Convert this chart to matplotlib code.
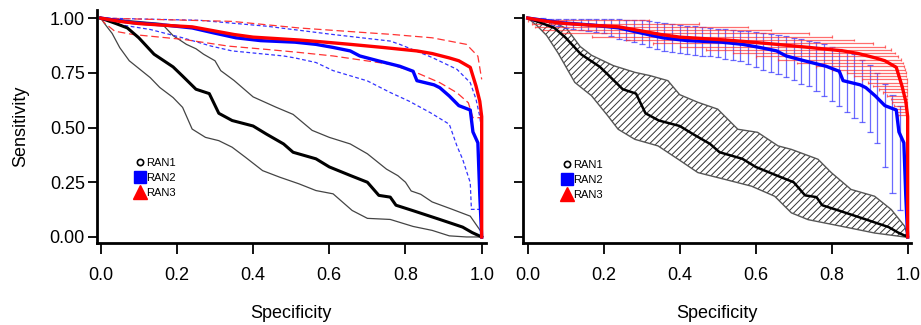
import matplotlib
matplotlib.use('Agg')
import matplotlib.pyplot as plt
from matplotlib.lines import Line2D

plt.rcParams['font.family'] = ['Liberation Sans', 'DejaVu Sans']
plt.rcParams['hatch.linewidth'] = 0.7

# ROC curves (specificity, sensitivity)
ran1_sp = [0.0, 0.04, 0.07, 0.10, 0.14, 0.19, 0.215, 0.25, 0.285, 0.31, 0.345, 0.40, 0.435,
           0.48, 0.505, 0.565, 0.60, 0.655, 0.70, 0.73, 0.76, 0.775, 0.82, 0.855, 0.89, 0.95, 0.975, 1.0]
ran1_se = [1.0, 0.975, 0.955, 0.91, 0.835, 0.777, 0.735, 0.675, 0.655, 0.565, 0.532, 0.507, 0.47,
           0.425, 0.387, 0.357, 0.32, 0.281, 0.25, 0.19, 0.182, 0.145, 0.12, 0.1, 0.08, 0.045, 0.02, 0.0]

ran2_sp = [0.0, 0.085, 0.17, 0.24, 0.295, 0.355, 0.42, 0.51, 0.565, 0.61, 0.655, 0.68, 0.73,
           0.785, 0.82, 0.83, 0.875, 0.89, 0.915, 0.94, 0.97, 0.977, 0.99, 0.995, 1.0]
ran2_se = [1.0, 0.979, 0.968, 0.955, 0.933, 0.91, 0.897, 0.89, 0.88, 0.866, 0.85, 0.827, 0.804,
           0.78, 0.757, 0.714, 0.695, 0.682, 0.644, 0.6, 0.58, 0.48, 0.43, 0.19, 0.0]

ran3_sp = [0.0, 0.05, 0.10, 0.17, 0.24, 0.35, 0.40, 0.52, 0.57, 0.655, 0.74, 0.83, 0.87,
           0.915, 0.94, 0.97, 0.985, 0.995, 1.0, 1.0]
ran3_se = [1.0, 0.985, 0.975, 0.967, 0.96, 0.925, 0.913, 0.9, 0.893, 0.88, 0.866, 0.85, 0.838,
           0.818, 0.805, 0.775, 0.69, 0.62, 0.55, 0.0]

# left panel: confidence curves
ran1_hi_sp = [0.0, 0.16, 0.19, 0.225, 0.25, 0.27, 0.30, 0.315, 0.35, 0.40, 0.46, 0.505, 0.555,
              0.60, 0.655, 0.70, 0.75, 0.78, 0.80, 0.815, 0.84, 0.87, 0.92, 0.97, 1.0]
ran1_hi_se = [1.0, 0.975, 0.92, 0.88, 0.86, 0.835, 0.805, 0.76, 0.715, 0.64, 0.593, 0.56, 0.487,
              0.455, 0.425, 0.38, 0.31, 0.28, 0.25, 0.21, 0.195, 0.16, 0.128, 0.095, 0.02]
ran1_lo_sp = [0.0, 0.01, 0.03, 0.05, 0.075, 0.10, 0.13, 0.155, 0.19, 0.215, 0.24, 0.275, 0.31, 0.345,
              0.38, 0.425, 0.47, 0.52, 0.565, 0.61, 0.66, 0.70, 0.76, 0.82, 0.87, 0.915, 0.96, 1.0]
ran1_lo_se = [1.0, 0.975, 0.93, 0.865, 0.805, 0.77, 0.728, 0.683, 0.637, 0.592, 0.493, 0.455, 0.44, 0.41,
              0.364, 0.303, 0.273, 0.243, 0.212, 0.197, 0.121, 0.085, 0.08, 0.048, 0.03, 0.005, 0.0, 0.0]

ran2_hi_sp = [0.0, 0.26, 0.435, 0.61, 0.76, 0.785, 0.87, 0.935, 0.97, 0.985, 0.995, 1.0]
ran2_hi_se = [1.0, 0.99, 0.963, 0.925, 0.895, 0.88, 0.82, 0.766, 0.705, 0.63, 0.55, 0.48]
ran2_lo_sp = [0.0, 0.05, 0.13, 0.215, 0.29, 0.345, 0.48, 0.51, 0.565, 0.61, 0.70, 0.76, 0.81,
              0.865, 0.915, 0.935, 0.95, 0.97, 0.973, 0.995]
ran2_lo_se = [1.0, 0.97, 0.948, 0.91, 0.872, 0.85, 0.827, 0.818, 0.797, 0.76, 0.713, 0.66, 0.62,
              0.568, 0.515, 0.416, 0.355, 0.248, 0.126, 0.126]

ran3_hi_sp = [0.0, 0.345, 0.52, 0.70, 0.76, 0.87, 0.96, 0.99, 1.0]
ran3_hi_se = [1.0, 0.985, 0.955, 0.933, 0.926, 0.91, 0.88, 0.826, 0.72]
ran3_lo_sp = [0.0, 0.01, 0.037, 0.085, 0.22, 0.335, 0.435, 0.51, 0.61, 0.76, 0.83, 0.89, 0.935,
              0.965, 0.977, 1.0]
ran3_lo_se = [1.0, 0.978, 0.94, 0.925, 0.902, 0.872, 0.857, 0.845, 0.827, 0.789, 0.75, 0.705, 0.659,
              0.613, 0.545, 0.545]

# right panel: RAN1 confidence band
band_hi_sp = [0.0, 0.068, 0.103, 0.138, 0.168, 0.225, 0.282, 0.322, 0.369, 0.40, 0.448, 0.50,
              0.553, 0.605, 0.659, 0.694, 0.764, 0.799, 0.851, 0.913, 0.957, 0.992, 1.0]
band_hi_se = [1.0, 0.982, 0.951, 0.87, 0.83, 0.783, 0.752, 0.737, 0.714, 0.65, 0.615, 0.584,
              0.492, 0.478, 0.416, 0.40, 0.355, 0.294, 0.217, 0.186, 0.125, 0.049, 0.0]
band_lo_sp = [0.0, 0.024, 0.05, 0.08, 0.124, 0.168, 0.211, 0.238, 0.282, 0.343, 0.396, 0.448,
              0.519, 0.589, 0.65, 0.694, 0.738, 0.825, 0.913, 0.992, 1.0]
band_lo_se = [1.0, 0.966, 0.92, 0.84, 0.706, 0.645, 0.553, 0.492, 0.446, 0.416, 0.355, 0.294,
              0.263, 0.232, 0.186, 0.11, 0.079, 0.049, 0.018, 0.0, 0.0]

# right panel: RAN2 sensitivity CI bars
bar2_sp = [0.02, 0.04, 0.06, 0.08, 0.10, 0.12, 0.14, 0.16, 0.18, 0.20, 0.22, 0.24, 0.26, 0.28, 0.30,
           0.32, 0.34, 0.36, 0.38, 0.40, 0.42, 0.44, 0.46, 0.48, 0.50, 0.52, 0.54, 0.56, 0.58, 0.60,
           0.62, 0.64, 0.66, 0.68, 0.70, 0.72, 0.74, 0.76, 0.78, 0.80, 0.82, 0.84, 0.86, 0.88, 0.90,
           0.92, 0.94, 0.96, 0.98]
bar2_hi = [1.0, 1.0, 0.998, 0.998, 0.997, 0.997, 0.996, 0.996, 0.995, 0.995, 0.994, 0.994, 0.993,
           0.992, 0.99, 0.987, 0.983, 0.978, 0.974, 0.97, 0.966, 0.962, 0.958, 0.955, 0.952, 0.949,
           0.946, 0.943, 0.939, 0.936, 0.932, 0.927, 0.921, 0.916, 0.91, 0.904, 0.897, 0.89, 0.88,
           0.87, 0.86, 0.85, 0.835, 0.81, 0.785, 0.75, 0.70, 0.65, 0.60]
bar2_lo = [0.985, 0.975, 0.968, 0.962, 0.955, 0.95, 0.945, 0.94, 0.937, 0.93, 0.92, 0.905, 0.9,
           0.89, 0.88, 0.87, 0.86, 0.85, 0.845, 0.84, 0.835, 0.83, 0.828, 0.825, 0.82, 0.815, 0.81,
           0.805, 0.79, 0.775, 0.765, 0.755, 0.745, 0.73, 0.715, 0.70, 0.69, 0.665, 0.645, 0.62,
           0.60, 0.57, 0.545, 0.525, 0.48, 0.43, 0.32, 0.2, 0.125]

# right panel: RAN3 specificity CI bars
bar3_se = [0.99, 0.975, 0.96, 0.945, 0.93, 0.915, 0.90, 0.885, 0.87, 0.855, 0.84, 0.825, 0.81,
           0.795, 0.78, 0.765, 0.75, 0.735, 0.72, 0.705, 0.69, 0.675, 0.66, 0.645, 0.63, 0.615,
           0.60, 0.585, 0.57, 0.555]
bar3_lo = [0.0, 0.01, 0.02, 0.04, 0.09, 0.17, 0.26, 0.33, 0.40, 0.47, 0.54, 0.60, 0.66, 0.71, 0.76,
           0.80, 0.84, 0.86, 0.88, 0.895, 0.91, 0.925, 0.935, 0.945, 0.955, 0.96, 0.965, 0.97,
           0.972, 0.975]
bar3_hi = [0.32, 0.45, 0.58, 0.64, 0.74, 0.80, 0.86, 0.91, 0.94, 0.955, 0.967, 0.975, 0.982, 0.987,
           0.99, 0.993, 0.995, 0.996, 0.997, 0.997, 0.997, 0.997, 0.997, 0.997, 0.997, 0.997, 0.997,
           0.997, 0.997, 0.997]

tick_vals = [0.0, 0.2, 0.4, 0.6, 0.8, 1.0]
ytick_vals = [0.0, 0.25, 0.5, 0.75, 1.0]
names = ['RAN1', 'RAN2', 'RAN3']

W, H = 921.0, 325.0
fig = plt.figure(figsize=(9.21, 3.25), dpi=100)
ax1 = fig.add_axes([96.7 / W, (H - 243.3) / H, 388.8 / W, 233.3 / H])
ax2 = fig.add_axes([523.3 / W, (H - 243.3) / H, 387.4 / W, 228.3 / H])


def style(ax, xl, yl, show_y):
    ax.set_xlim(*xl)
    ax.set_ylim(*yl)
    ax.spines['top'].set_visible(False)
    ax.spines['right'].set_visible(False)
    ax.spines['left'].set_linewidth(2.0)
    ax.spines['bottom'].set_linewidth(2.0)
    ax.set_xticks(tick_vals)
    ax.set_xticklabels(['%.1f' % v for v in tick_vals])
    ax.set_yticks(ytick_vals)
    if show_y:
        ax.set_yticklabels(['%.2f' % v for v in ytick_vals])
        ax.set_ylabel('Sensitivity', fontsize=13, labelpad=15)
    else:
        ax.set_yticklabels([])
    ax.tick_params(axis='x', length=8, width=1.3, labelsize=13, pad=9)
    ax.tick_params(axis='y', length=6.5, width=1.3, labelsize=13, pad=2)
    ax.set_xlabel('Specificity', fontsize=13, labelpad=15)
    handles = [
        Line2D([], [], ls='none', marker='o', ms=4.5, mfc='white', mec='black', mew=1.2),
        Line2D([], [], ls='none', marker='s', ms=8.5, color='blue'),
        Line2D([], [], ls='none', marker='^', ms=10, color='red'),
    ]
    ax.legend(handles, names, loc='upper left', bbox_to_anchor=(0.098, 0.365), frameon=False,
              fontsize=8, handlelength=1.0, handletextpad=0.05, labelspacing=0.45,
              borderpad=0, borderaxespad=0)


# left panel
ax1.plot(ran1_hi_sp, ran1_hi_se, color='#444444', lw=0.9)
ax1.plot(ran1_lo_sp, ran1_lo_se, color='#444444', lw=0.9)
ax1.plot(ran2_hi_sp, ran2_hi_se, color='#3333ff', lw=0.9, dashes=(3, 2))
ax1.plot(ran2_lo_sp, ran2_lo_se, color='#3333ff', lw=0.9, dashes=(3, 2))
ax1.plot(ran3_hi_sp, ran3_hi_se, color='#ff3333', lw=0.9, dashes=(6, 3))
ax1.plot(ran3_lo_sp, ran3_lo_se, color='#ff3333', lw=0.9, dashes=(6, 3))
ax1.plot(ran1_sp, ran1_se, color='black', lw=2.2)
ax1.plot(ran2_sp, ran2_se, color='blue', lw=2.4)
ax1.plot(ran3_sp, ran3_se, color='red', lw=2.4)
style(ax1, (-0.0105, 1.01), (-0.029, 1.037), True)

# right panel
poly_x = band_hi_sp + band_lo_sp[::-1]
poly_y = band_hi_se + band_lo_se[::-1]
ax2.fill(poly_x, poly_y, facecolor='white', edgecolor='#333333', hatch='/////', lw=0)
ax2.fill(poly_x, poly_y, facecolor='none', edgecolor='#555555', lw=1.0)

cap = 0.008
ax2.vlines(bar2_sp, bar2_lo, bar2_hi, color='#3a3aff', lw=0.9, alpha=0.75)
ax2.hlines(bar2_lo, [x - cap for x in bar2_sp], [x + cap for x in bar2_sp], color='#3a3aff', lw=0.9, alpha=0.75)
ax2.hlines(bar2_hi, [x - cap for x in bar2_sp], [x + cap for x in bar2_sp], color='#3a3aff', lw=0.9, alpha=0.75)

vcap = 0.006
ax2.hlines(bar3_se, bar3_lo, bar3_hi, color='#ff3030', lw=0.9, alpha=0.7)
ax2.vlines(bar3_lo, [s - vcap for s in bar3_se], [s + vcap for s in bar3_se], color='#ff3030', lw=0.9, alpha=0.7)
ax2.vlines(bar3_hi, [s - vcap for s in bar3_se], [s + vcap for s in bar3_se], color='#ff3030', lw=0.9, alpha=0.7)

ax2.plot(ran1_sp, ran1_se, color='black', lw=1.8)
ax2.plot(ran2_sp, ran2_se, color='blue', lw=2.4)
ax2.plot(ran3_sp, ran3_se, color='red', lw=2.4)
style(ax2, (-0.0116, 1.008), (-0.029, 1.014), False)

fig.savefig('out.png', dpi=100)
